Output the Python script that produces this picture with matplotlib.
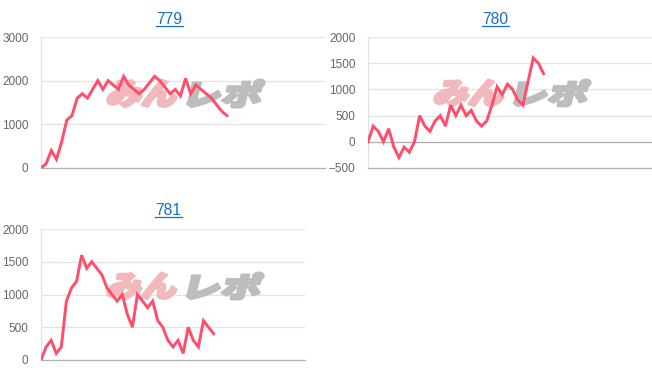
import matplotlib
matplotlib.use('Agg')
import matplotlib.pyplot as plt
from matplotlib.lines import Line2D
from matplotlib.textpath import TextPath
from matplotlib.patches import PathPatch
from matplotlib.font_manager import FontProperties
from matplotlib.transforms import Affine2D

# data
titles = ['779', '780', '781']
vals_779 = [0, 100, 400, 200, 600, 1100, 1200, 1600, 1700, 1600, 1800, 2000, 1800,
            2000, 1900, 1800, 2100, 1900, 1800, 1700, 1800, 1950, 2100, 2000, 1850,
            1700, 1800, 1650, 2050, 1700, 1900, 1800, 1700, 1600, 1450, 1300, 1200]
vals_780 = [0, 300, 200, 0, 250, -100, -300, -100, -200, 0, 500, 300, 200, 400, 500,
            300, 700, 500, 700, 500, 600, 400, 300, 400, 700, 1050, 900, 1100, 1000,
            800, 700, 1150, 1600, 1500, 1300]
vals_781 = [0, 200, 300, 100, 200, 900, 1100, 1200, 1600, 1400, 1500, 1400, 1300,
            1100, 1000, 900, 1000, 700, 500, 1000, 900, 800, 900, 600, 500, 300, 200,
            300, 100, 500, 300, 200, 600, 500, 400]
y_ticks_779 = [0, 1000, 2000, 3000]
y_ticks_780 = [-500, 0, 500, 1000, 1500, 2000]
y_ticks_781 = [0, 500, 1000, 1500, 2000]

W, H = 652, 382
fig = plt.figure(figsize=(W / 100, H / 100), dpi=100)
plt.rcParams['font.family'] = ['Liberation Sans', 'DejaVu Sans']

line_col = '#ff4d6b'
logo_font = FontProperties(family='Noto Sans CJK JP', weight='black')


def px_axes(l, r, t, b):
    return fig.add_axes([l / W, 1 - b / H, (r - l) / W, (b - t) / H])


def logo(ax, x0, x1, y0, y1):
    # みんレポ watermark, squeezed into a pixel box
    split = x0 + (x1 - x0) * 0.49
    for txt, col, a, b in [('みん', '#f1b9bd', x0 + 1, split - 3), ('レポ', '#bdbdbd', split + 3, x1 - 1)]:
        tp = TextPath((0, 0), txt, size=30, prop=logo_font)
        e = tp.get_extents()
        h = y1 - y0 - 2
        sk = h * 0.25
        tr = (Affine2D().translate(-e.x0, -e.y0)
              .scale((b - a - sk) / e.width, h / e.height)
              .skew_deg(14, 0)
              .translate(a, H - y1 + 1)
              .scale(1 / W, 1 / H))
        ax.add_patch(PathPatch(tr.transform_path(tp), facecolor=col, edgecolor=col, lw=2.2,
                               joinstyle='round', transform=fig.transFigure, zorder=1))


def title(text, cx, cy):
    fig.text(cx / W, 1 - cy / H, text, ha='center', va='center', fontsize=11.3, color='#1a6dc8')
    fig.add_artist(Line2D([(cx - 13.5) / W, (cx + 13.5) / W], [1 - (cy + 6.5) / H] * 2,
                          color='#1a6dc8', lw=0.9))


def chart(ax, vals, ticks, ncat, zero_line=False):
    ax.plot(range(len(vals)), vals, color=line_col, lw=2.1, zorder=3, solid_joinstyle='miter')
    ax.set_xlim(0, ncat)
    ax.set_ylim(ticks[0], ticks[-1])
    ax.set_yticks(ticks)
    ax.set_xticks([])
    ax.grid(axis='y', color='#e3e3e3', lw=0.9)
    ax.tick_params(axis='y', length=0, pad=9, labelsize=8.5, labelcolor='#666666')
    for s in ['top', 'right']:
        ax.spines[s].set_visible(False)
    ax.spines['left'].set_color('#e3e3e3')
    ax.spines['bottom'].set_color('#b0b0b0')
    ax.spines['left'].set_linewidth(0.9)
    ax.spines['bottom'].set_linewidth(0.9)
    if zero_line:
        ax.axhline(0, color='#b0b0b0', lw=0.9, zorder=2)
    ax.set_axisbelow(True)


ax1 = px_axes(41, 325, 37, 168)
chart(ax1, vals_779, y_ticks_779, 55)
logo(ax1, 105, 266, 79, 108)
title(titles[0], 169, 19)

ax2 = px_axes(368, 652, 37, 168)
chart(ax2, vals_780, y_ticks_780, 55, zero_line=True)
logo(ax2, 432, 592, 79, 107)
title(titles[1], 495.5, 19)

ax3 = px_axes(41, 305, 229, 360)
chart(ax3, vals_781, y_ticks_781, 52)
logo(ax3, 105, 265, 272, 300)
title(titles[2], 168.5, 210.5)

fig.savefig('out.png', dpi=100)
